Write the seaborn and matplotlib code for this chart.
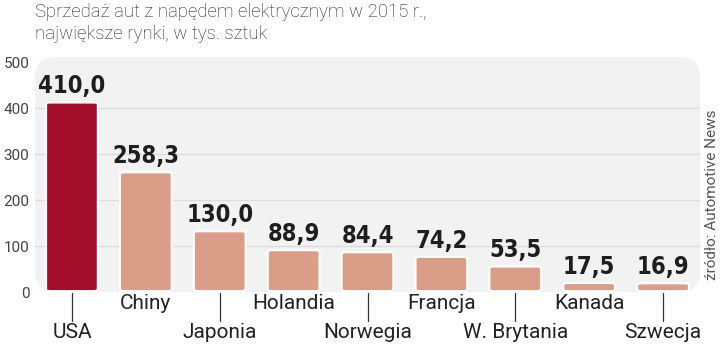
import matplotlib
matplotlib.use("Agg")
import matplotlib.pyplot as plt
import seaborn as sns
import pandas as pd
from matplotlib.patches import FancyBboxPatch

countries = ["USA", "Chiny", "Japonia", "Holandia", "Norwegia", "Francja", "W. Brytania", "Kanada", "Szwecja"]
values = [410.0, 258.3, 130.0, 88.9, 84.4, 74.2, 53.5, 17.5, 16.9]
value_labels = ["410,0", "258,3", "130,0", "88,9", "84,4", "74,2", "53,5", "17,5", "16,9"]
yticks = [0, 100, 200, 300, 400, 500]

sns.set_style("white")
plt.rcParams["font.family"] = ["Roboto", "DejaVu Sans"]

df = pd.DataFrame({"country": countries, "value": values})
colors = ["#A30F2B"] + ["#DA9E88"] * 8

fig = plt.figure(figsize=(7.2, 3.46), dpi=100)
ax = fig.add_axes([35/720, (346-292)/346, 665/720, (292-57)/346])
sns.barplot(data=df, x="country", y="value", hue="country", palette=colors,
            legend=False, width=0.7, ax=ax, saturation=1)
ax.set_facecolor("none")
ax.set_ylim(0, 511)
ax.set_xlim(-0.5, 8.5)
for s in ax.spines.values():
    s.set_visible(False)

bg = FancyBboxPatch((0, 0), 1, 1, boxstyle="round,pad=0,rounding_size=0.03",
                    transform=ax.transAxes, facecolor="#F2F2F2", edgecolor="none",
                    zorder=0, mutation_aspect=665/235)
ax.add_patch(bg)
for t in [100, 200, 300, 400]:
    ax.axhline(t, color="#DCDCDC", lw=1.0, zorder=0.5)

for p in list(ax.patches):
    if isinstance(p, FancyBboxPatch):
        continue
    x, y, w, h = p.get_x(), p.get_y(), p.get_width(), p.get_height()
    fc = p.get_facecolor()
    p.remove()
    hh = max(h, 14)
    fb = FancyBboxPatch((x, y + 2), w, hh, boxstyle="round,pad=0,rounding_size=0.06",
                        mutation_aspect=60,
                        facecolor=fc, edgecolor="white", lw=1.5, zorder=2)
    ax.add_patch(fb)

for i, (v, lab) in enumerate(zip(values, value_labels)):
    ax.text(i, max(v, 14) + 11, lab, ha="center", va="bottom", fontsize=17,
            fontweight="bold", family="DejaVu Sans", fontstretch="condensed",
            color="#1e1e1e", zorder=3)

ax.set_yticks(yticks)
ax.set_yticklabels([str(t) for t in yticks], fontsize=11, color="#444444")
ax.tick_params(axis="y", length=0, pad=4)
ax.set_xticks([])
ax.set_xlabel("")
ax.set_ylabel("")

for i, c in enumerate(countries):
    if i % 2 == 0:
        ax.plot([i, i], [-2, -64], color="#333333", lw=0.9, clip_on=False, zorder=3)
        ax.text(i, -68, c, ha="center", va="top", fontsize=15, color="#222222")
    else:
        ax.text(i, -4, c, ha="center", va="top", fontsize=15, color="#222222")

fig.text(35/720, 1 - 3/346, "Sprzedaż aut z napędem elektrycznym w 2015 r.,\nnajwiększe rynki, w tys. sztuk",
         ha="left", va="top", fontsize=13.4, color="#222222", linespacing=1.3, fontweight="light")
fig.text(712/720, (346-195)/346, "źródło: Automotive News", rotation=90, ha="center", va="center",
         fontsize=11, color="#555555")

fig.savefig("out.png", dpi=100)
